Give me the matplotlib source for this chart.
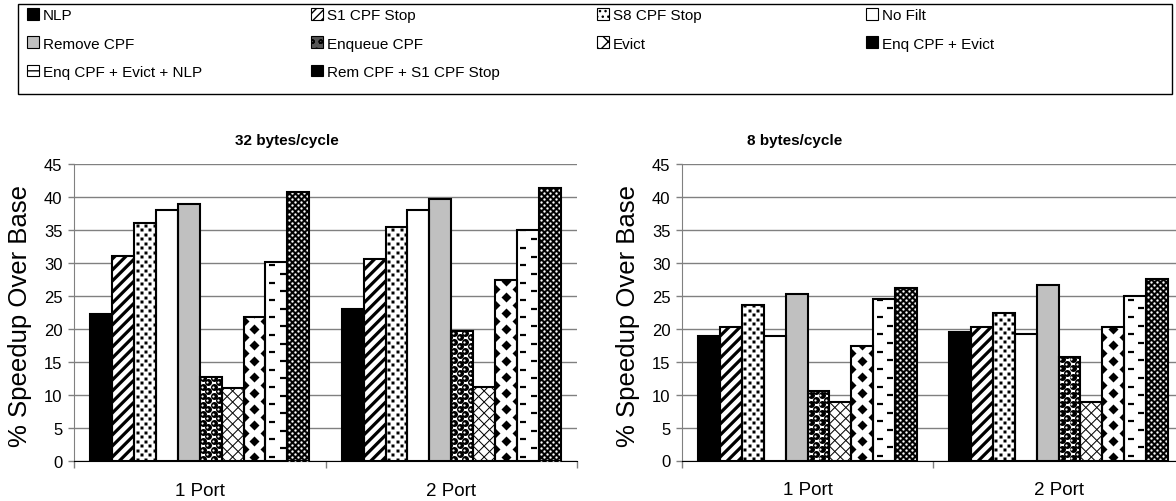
import numpy as np
import matplotlib
matplotlib.use("Agg")
import matplotlib.pyplot as plt
import matplotlib.patches as mpatches
from matplotlib.collections import LineCollection
from matplotlib.transforms import IdentityTransform

plt.rcParams['font.family'] = ['Liberation Sans', 'DejaVu Sans']
plt.rcParams['hatch.linewidth'] = 1.0

# ---------------- data ----------------
categories = ['1 Port', '2 Port']
series = ['NLP', 'S1 CPF Stop', 'S8 CPF Stop', 'No Filt', 'Remove CPF',
          'Enqueue CPF', 'Evict', 'Enq CPF + Evict', 'Enq CPF + Evict + NLP',
          'Rem CPF + S1 CPF Stop']
speedup_32_1port = [22.2, 31.0, 36.1, 38.1, 38.9, 12.7, 11.1, 21.8, 30.1, 40.7]
speedup_32_2port = [23.1, 30.6, 35.5, 38.0, 39.7, 19.7, 11.2, 27.4, 35.0, 41.4]
speedup_8_1port = [18.9, 20.3, 23.6, 18.9, 25.3, 10.5, 8.9, 17.4, 24.5, 26.2]
speedup_8_2port = [19.5, 20.2, 22.4, 19.2, 26.6, 15.7, 8.9, 20.3, 24.9, 27.6]
yticks = [0, 5, 10, 15, 20, 25, 30, 35, 40, 45]
titles = ['32 bytes/cycle', '8 bytes/cycle']
ylabel = '% Speedup Over Base'

# ---------------- styles ----------------
faces = ['black', 'white', 'white', 'white', '#c0c0c0',
         'white', 'white', 'white', 'white', 'black']
legend_face = ['black', 'white', 'white', 'white', '#c0c0c0',
               '#555555', 'white', 'black', 'white', 'black']
legend_hatch = [None, '////', '...', None, None,
                'oo', 'xx', None, '--', None]

W, H = 1176, 502
fig = plt.figure(figsize=(W / 100, H / 100), dpi=100)


def px_axes(x0, y_top, x1, y_bot):
    return fig.add_axes([x0 / W, 1 - y_bot / H, (x1 - x0) / W, (y_bot - y_top) / H])


def stripes(ax, bar, period, lw, slopes):
    bb = bar.get_window_extent()
    segs = []
    for s in slopes:
        if s > 0:
            cmin, cmax = bb.x0 - bb.y1, bb.x1 - bb.y0
            c = np.floor((cmin - bb.x0) / period) * period + bb.x0
            while c <= cmax + period:
                segs.append([(bb.y0 - 2 + c, bb.y0 - 2), (bb.y1 + 2 + c, bb.y1 + 2)])
                c += period
        else:
            cmin, cmax = bb.x0 + bb.y0, bb.x1 + bb.y1
            c = np.floor((cmin - bb.x0) / period) * period + bb.x0
            while c <= cmax + period:
                segs.append([(c - bb.y0 + 2, bb.y0 - 2), (c - bb.y1 - 2, bb.y1 + 2)])
                c += period
    lc = LineCollection(segs, colors='black', linewidths=lw * 0.72,
                        transform=IdentityTransform(), zorder=3)
    ax.add_collection(lc, autolim=False)
    lc.set_clip_path(bar)


def marks(ax, bar, px, py, marker, size, color, x_start=0.0, mew=0.0, stagger=True):
    bb = bar.get_window_extent()
    xs, ys = [], []
    k = 0
    y = bb.y0 + py / 2
    while y < bb.y1 + py:
        off = (px / 2 if (stagger and k % 2) else 0.0)
        x = bb.x0 + x_start + off - px
        while x < bb.x1 + px:
            xs.append(x)
            ys.append(y)
            x += px
        y += py
        k += 1
    if marker == '_':
        ln, = ax.plot(xs, ys, ls='none', marker=marker, ms=size * 0.72, mec=color,
                      mew=mew * 0.72, transform=IdentityTransform(), zorder=3)
    else:
        ln, = ax.plot(xs, ys, ls='none', marker=marker, ms=size * 0.72, mfc=color,
                      mec='none', transform=IdentityTransform(), zorder=3)
    ln.set_clip_path(bar)


def decorate(ax, i, bar):
    if i == 1:
        stripes(ax, bar, 11, 3.2, [1])
    elif i == 2:
        marks(ax, bar, 8.5, 4.5, 's', 3.0, 'black', x_start=2.5)
    elif i == 5:
        marks(ax, bar, 11, 4.5, 'o', 7.0, 'black', x_start=3)
        marks(ax, bar, 11, 4.5, 'o', 2.2, 'white', x_start=1.8)
    elif i == 6:
        stripes(ax, bar, 11, 1.0, [1, -1])
    elif i == 7:
        bb = bar.get_window_extent()
        marks(ax, bar, bb.width, 8, 'D', 7.0, 'black', x_start=bb.width / 2)
    elif i == 8:
        bb = bar.get_window_extent()
        marks(ax, bar, bb.width, 8.7, '_', 6, 'black', x_start=bb.width * 0.3, mew=2.2)
    elif i == 9:
        marks(ax, bar, 6, 3, 'o', 2.4, 'white', x_start=2)


def draw_chart(ax, vals_1port, vals_2port, title, title_x):
    x = np.arange(len(categories))
    n = len(series)
    w = 0.087
    ax.set_xlim(-0.5, 1.5)
    ax.set_ylim(0, 45)
    for i in range(n):
        vals = [vals_1port[i], vals_2port[i]]
        xpos = x + (i - (n - 1) / 2) * w
        bars = ax.bar(xpos, vals, w, color=faces[i], linewidth=0, zorder=2)
        for b in bars:
            decorate(ax, i, b)
        ax.bar(xpos, vals, w, fill=False, edgecolor='black', linewidth=1.5, zorder=4)
    ax.set_yticks(yticks)
    ax.grid(axis='y', color='#808080', linewidth=1.0)
    ax.set_axisbelow(True)
    for s in ['top', 'right']:
        ax.spines[s].set_visible(False)
    ax.spines['left'].set_color('#808080')
    ax.spines['bottom'].set_color('black')
    ax.tick_params(axis='y', labelsize=12, length=4.3, pad=4, color='#808080', width=1)
    ax.set_xticks(x)
    ax.set_xticklabels(categories, fontsize=13.5)
    ax.set_xticks([-0.5, 0.5, 1.5], minor=True)
    ax.tick_params(axis='x', which='major', length=0, pad=15)
    ax.tick_params(axis='x', which='minor', length=5, color='#808080', width=1)
    fig.text(title_x / W, 1 - 141 / H, title, ha='center', va='center',
             fontsize=11, fontweight='bold')


axL = px_axes(74, 165, 577, 462)
axR = px_axes(682, 165, 1184, 461.5)
draw_chart(axL, speedup_32_1port, speedup_32_2port, titles[0], 287)
draw_chart(axR, speedup_8_1port, speedup_8_2port, titles[1], 795)
fig.text(20 / W, 1 - 316 / H, ylabel, rotation=90, ha='center', va='center', fontsize=18.5)
fig.text(628 / W, 1 - 316 / H, ylabel, rotation=90, ha='center', va='center', fontsize=18.5)

# ---------------- legend ----------------
box = mpatches.Rectangle((18 / W, 1 - 95 / H), 1154 / W, 90 / H, transform=fig.transFigure,
                         fill=False, edgecolor='black', linewidth=1.0)
fig.patches.append(box)
handles = [mpatches.Patch(facecolor=legend_face[i], edgecolor='black', hatch=legend_hatch[i],
                          linewidth=0.8, label=series[i]) for i in range(len(series))]
col_x = [27, 311, 597, 866]
for c in range(4):
    idx = list(range(c, len(series), 4))
    leg = fig.legend([handles[i] for i in idx], [series[i] for i in idx],
                     loc='upper left', bbox_to_anchor=(col_x[c] / W, 1 - 9 / H),
                     frameon=False, fontsize=11, borderpad=0, borderaxespad=0,
                     handlelength=0.8, handleheight=0.8, handletextpad=0.25,
                     labelspacing=0.93)

fig.savefig('out.png', dpi=100)
